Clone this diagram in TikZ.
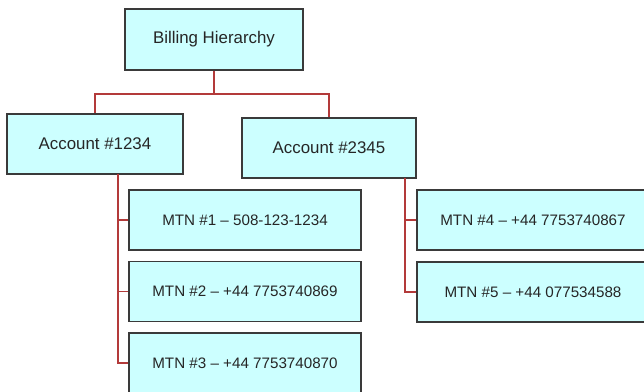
\documentclass[tikz,border=0pt]{standalone}
\usepackage{fontspec}
\setmainfont{Liberation Sans}
\usetikzlibrary{calc}

\definecolor{boxfill}{HTML}{CCFFFF}
\definecolor{boxline}{HTML}{3A3A3A}
\definecolor{linkred}{HTML}{B33A3A}

\tikzset{
  bill/.style={draw=boxline, fill=boxfill, line width=1.1pt, inner sep=0pt,
    text=black!85, font=\fontsize{12}{14}\selectfont},
  mtn/.style={bill, minimum width=5.8cm, minimum height=1.5cm,
    font=\fontsize{10.8}{13}\selectfont},
  link/.style={draw=linkred, line width=0.8pt}
}

\begin{document}
\begin{tikzpicture}[x=0.025cm, y=-0.025cm]
    \useasboundingbox (0,0) rectangle (644,391);
    \clip (0,0) rectangle (644,391);

    \node [bill, minimum width=4.45cm, minimum height=1.525cm] (root) at (214,39.5) {Billing Hierarchy};
    \node [bill, minimum width=4.4cm, minimum height=1.5cm] (acc1) at (95,144) {Account \#1234};
    \node [bill, minimum width=4.35cm, minimum height=1.5cm] (acc2) at (329,148) {Account \#2345};

    \node [mtn] (mtn1) at (245,220) {MTN \#1 -- 508-123-1234};
    \node [mtn] (mtn2) at (245,291.5) {MTN \#2 -- +44 7753740869};
    \node [mtn] (mtn3) at (245,363) {MTN \#3 -- +44 7753740870};
    \node [mtn] (mtn4) at (533,220) {MTN \#4 -- +44 7753740867};
    \node [mtn] (mtn5) at (533,292) {MTN \#5 -- +44 077534588};

    \coordinate (bus) at (214,94);
    \coordinate (trunkA) at (118,174);
    \coordinate (trunkB) at (405,178);

     \draw [link] (root.south) -- (bus);
     \draw [link] (bus) -| (acc1.north);
     \draw [link] (bus) -| (acc2.north);

     \draw [link] (trunkA) |- (mtn1.west);
     \draw [link] (trunkA) |- (mtn2.west);
     \draw [link] (trunkA) |- (mtn3.west);

     \draw [link] (trunkB) |- (mtn4.west);
     \draw [link] (trunkB) |- (mtn5.west);

\end{tikzpicture}
\end{document}
